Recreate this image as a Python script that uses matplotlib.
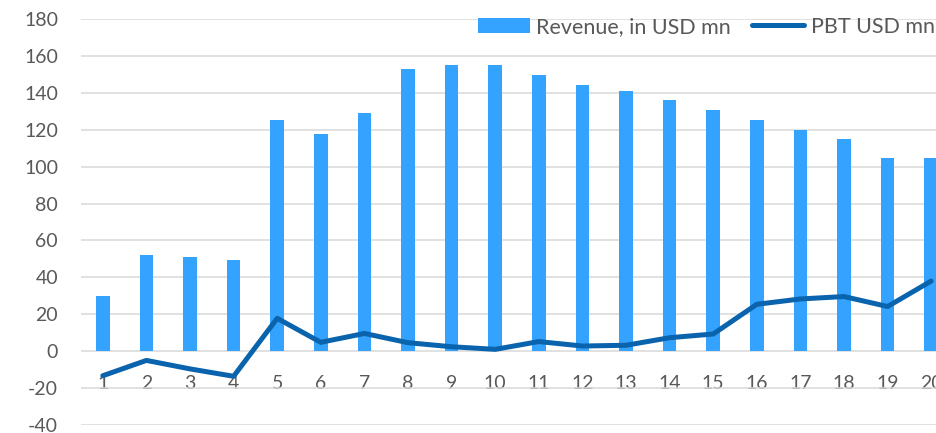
import matplotlib
matplotlib.use("Agg")
import matplotlib.pyplot as plt

categories = [str(i) for i in range(1, 21)]
revenue = [30, 52, 51, 49.5, 125.5, 117.5, 129, 153, 155, 155,
           149.5, 144.5, 141, 136, 130.5, 125.5, 120, 115, 104.5, 104.5]
pbt = [-13.3, -5, -9.6, -13.6, 17.8, 4.8, 9.6, 4.6, 2.4, 1.0,
       5.2, 2.8, 3.2, 7.3, 9.3, 25.4, 28.3, 29.6, 24.2, 38]
yticks = list(range(-40, 181, 20))

plt.rcParams['font.family'] = ['Lato', 'DejaVu Sans']
txt = '#595959'
fs = 14
W, H = 936, 433
fig = plt.figure(figsize=(W / 100, H / 100), dpi=100)
left = 81 / W
width = 872 / W
bottom = (H - 425) / H
height = 406 / H
ax = fig.add_axes([left, bottom, width, height])

x = list(range(1, len(categories) + 1))
bars = ax.bar(x, revenue, width=0.31, color='#33A3FF', label='Revenue, in USD mn', zorder=2)
line, = ax.plot(x, pbt, color='#0A63AD', lw=3.6, solid_capstyle='round',
                solid_joinstyle='round', label='PBT USD mn', zorder=3)

ax.set_xlim(0.5, 20.5)
ax.set_ylim(-40, 180)
ax.set_yticks(yticks)
ax.set_yticklabels([str(v) for v in yticks])
ax.set_xticks(x)
ax.set_xticklabels(categories)
ax.grid(axis='y', color='#D9D9D9', lw=1.1, zorder=0)
ax.set_axisbelow(True)
for s in ax.spines.values():
    s.set_visible(False)
ax.spines['bottom'].set_position(('data', 0))
ax.tick_params(axis='x', length=0, pad=17, labelsize=fs, labelcolor=txt)
ax.tick_params(axis='y', length=0, pad=16.5, labelsize=fs, labelcolor=txt)

leg = fig.legend([bars, line], ['Revenue, in USD mn', 'PBT USD mn'],
                 loc='upper left', bbox_to_anchor=(478 / W, 1 - 17 / H),
                 ncol=2, frameon=False, fontsize=15.5, borderpad=0,
                 borderaxespad=0, handlelength=2.4, handleheight=0.7,
                 handletextpad=0.3, columnspacing=1.0, labelcolor=txt)

fig.savefig('out.png', dpi=100)
